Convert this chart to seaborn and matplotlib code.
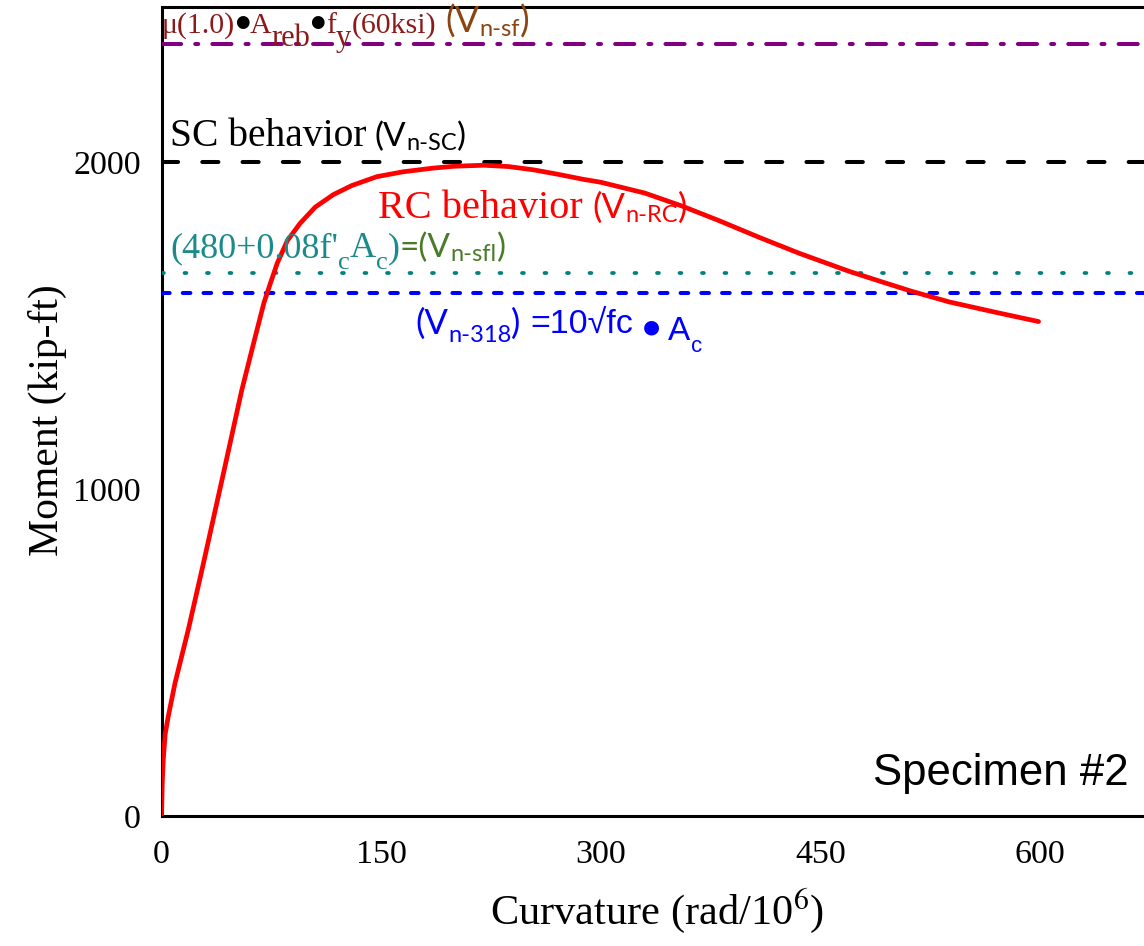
import matplotlib
matplotlib.use("Agg")
import numpy as np
import pandas as pd
import seaborn as sns
import matplotlib.pyplot as plt

# ---------------- data ----------------
curvature = [0, 0.5, 1.2, 2.5, 4.6, 9.2, 18.3, 28.5, 43.3, 54.7, 63.7, 70.0, 74.0,
             79.0, 86.0, 94.6, 105.0, 117.3, 130.0, 147.0, 165.0, 185.0, 200.0,
             220.0, 237.0, 254.0, 270.0, 288.0, 300.0, 330.0, 355.0, 380.0,
             409.0, 436.0, 470.0, 493.0, 512.0, 538.0, 572.0, 599.0]
moment = [0, 100, 171, 250, 304, 406, 570, 770, 1068, 1300, 1460, 1570, 1624,
          1690, 1760, 1812, 1862, 1900, 1928, 1955, 1970, 1981, 1987,
          1990, 1986, 1976, 1963, 1947, 1938, 1905, 1866, 1822,
          1768, 1720, 1665, 1632, 1605, 1572, 1538, 1512]
x_ticks = [0, 150, 300, 450, 600]
y_ticks = [0, 1000, 2000]
v_n_sf = 2360    # mu(1.0) A_reb f_y
v_n_sc = 2000    # SC behavior
v_n_sfl = 1662   # 480 + 0.08 f'c Ac
v_n_318 = 1600   # 10 sqrt(fc) Ac
x_max = 671
y_max = 2473

# ---------------- style ----------------
sns.set_theme(style="white")
SERIF = ["Liberation Serif", "DejaVu Sans"]
CALI = ["Lato", "DejaVu Sans"]
ARIAL = ["Liberation Sans", "DejaVu Sans"]
DJ = ["DejaVu Sans"]
plt.rcParams["font.family"] = SERIF
plt.rcParams["mathtext.fontset"] = "stix"

W, H = 1144, 946
fig = plt.figure(figsize=(W / 100, H / 100), dpi=100)
ax = fig.add_axes([161.5 / W, (H - 816) / H, (W - 161.5) / W, (816 - 7.3) / H])

df = pd.DataFrame({"Curvature": curvature, "Moment": moment})
sns.lineplot(data=df, x="Curvature", y="Moment", ax=ax, color="#ff0000",
             lw=3.4, sort=False, zorder=5, solid_capstyle="round",
             solid_joinstyle="round")

ax.axhline(v_n_sf, color="#800080", lw=2.9, ls=(0, (4.75, 3.5, 0.75, 3.5)),
           dash_capstyle="round", zorder=3)
ax.axhline(v_n_sc, color="black", lw=2.9, ls=(0, (4, 6)),
           dash_capstyle="round", zorder=3)
ax.axhline(v_n_sfl, color="#008080", lw=2.7, ls=(0, (0.5, 5.5)),
           dash_capstyle="round", zorder=3)
ax.axhline(v_n_318, color="#0000ff", lw=2.9, ls=(0, (1.9, 3.25)),
           dash_capstyle="round", zorder=3)

ax.set_xlim(0, x_max)
ax.set_ylim(0, y_max)
ax.set_xticks(x_ticks)
ax.set_yticks(y_ticks)
ax.tick_params(axis="both", length=0, labelsize=24.5, colors="black")
ax.tick_params(axis="y", pad=15)
ax.tick_params(axis="x", pad=17)
for lab in ax.get_xticklabels() + ax.get_yticklabels():
    lab.set_family(SERIF)

for side in ["left", "bottom", "top"]:
    ax.spines[side].set_color("black")
    ax.spines[side].set_linewidth(2.2)
ax.spines["right"].set_visible(False)
ax.grid(False)

ax.set_xlabel(r"Curvature (rad/10$^{6}$)", fontsize=30.5, family=SERIF, color="black")
ax.set_ylabel("Moment (kip-ft)", fontsize=30, family=SERIF, color="black")
ax.xaxis.label.set_va("center")
ax.yaxis.label.set_va("center")
ax.yaxis.label.set_rotation_mode("anchor")
ax.xaxis.set_label_coords((657 - 161.5) / (W - 161.5), (816 - 911) / (816 - 7.3))
ax.yaxis.set_label_coords((47 - 161.5) / (W - 161.5), (816 - 420) / (816 - 7.3))

# ---------------- annotations ----------------
renderer = fig.canvas.get_renderer()


def run(x, y, pieces):
    """Place text pieces one after another, x/y in pixels from the top-left."""
    for s, size, fam, col, dy, gap in pieces:
        t = fig.text(x / W, 1 - (y + dy) / H, s, fontsize=size, family=fam,
                     color=col, va="baseline", ha="left")
        x += t.get_window_extent(renderer).width + gap


MAROON = "#8b1a1a"
BROWN = "#8b4513"
TEAL = "#1a8a8a"
GREEN = "#4a7a2a"
BLUE = "#0000ff"
RED = "#ff0000"

run(162, 33, [
    ("μ(1.0)", 21.5, SERIF, MAROON, 0, 0),
    ("●", 12, DJ, "black", -6, 0),
    ("A", 21.5, SERIF, MAROON, 0, 0),
    ("reb", 22, SERIF, MAROON, 13, 0),
    ("●", 12, DJ, "black", -6, 1),
    ("f", 21.5, SERIF, MAROON, 0, 0),
    ("y", 22, SERIF, MAROON, 13, 1),
    ("(60ksi)", 21.5, SERIF, MAROON, 0, 9),
    ("(V", 26, CALI, BROWN, 0, 0),
    ("n-sf", 17, CALI, BROWN, 3, 0),
    (")", 26, CALI, BROWN, 0, 0),
])

run(170, 146, [
    ("SC behavior", 28.5, SERIF, "black", 0, 8),
    ("(V", 24, CALI, "black", 0, 0),
    ("n-SC", 17, CALI, "black", 4, 0),
    (")", 24, CALI, "black", 0, 0),
])

run(378, 218, [
    ("RC behavior", 29, SERIF, RED, 0, 10),
    ("(V", 25, CALI, RED, 0, 0),
    ("n-RC", 17, CALI, RED, 4, 0),
    (")", 25, CALI, RED, 0, 0),
])

run(170, 257, [
    ("(480+0.08f'", 26, SERIF, TEAL, 0, 0),
    ("c", 19, SERIF, TEAL, 12, 0),
    ("A", 26, SERIF, TEAL, 0, 0),
    ("c", 19, SERIF, TEAL, 12, 0),
    (")", 26, SERIF, TEAL, 0, 0),
    ("=(V", 24, CALI, GREEN, 0, 0),
    ("n-sfl", 17, CALI, GREEN, 4, 0),
    (")", 24, CALI, GREEN, 0, 0),
])

run(415, 334, [
    ("(V", 25, CALI, BLUE, 0, 0),
    ("n-318", 17, CALI, BLUE, 8, 0),
    (")", 25, CALI, BLUE, 0, 10),
    ("=10√fc", 24.5, ARIAL, BLUE, 0, 10),
    ("●", 14, DJ, BLUE, -2, 8),
    ("A", 24, ARIAL, BLUE, 6, 0),
    ("c", 16, ARIAL, BLUE, 18, 0),
])

fig.text(873 / W, 1 - 785 / H, "Specimen #2", fontsize=31.5, family=ARIAL,
         color="black", va="baseline", ha="left")

fig.savefig("out.png", dpi=100, facecolor="white")
